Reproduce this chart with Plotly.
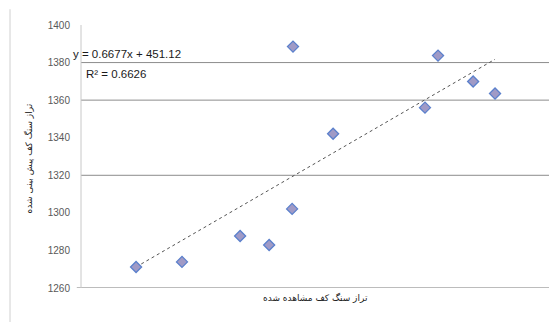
import plotly.graph_objects as go

# Observed vs. predicted bedrock elevation
observed = [1228.2, 1249.4, 1276.2, 1289.6, 1300.2, 1300.6, 1319.1, 1361.5, 1367.5, 1383.7, 1393.8]
predicted = [1271.2, 1273.9, 1287.7, 1282.9, 1302.1, 1388.5, 1342.1, 1356.0, 1383.7, 1369.9, 1363.5]

# Linear trend reported on the chart
slope = 0.6677
intercept = 451.12
r_squared = 0.6626

y_ticks = [1260, 1280, 1300, 1320, 1340, 1360, 1380, 1400]
grid_levels = [1320, 1360, 1380]

x_title = "تراز سنگ کف مشاهده شده"
y_title = "تراز سنگ کف پیش بینی شده"

x_min, x_max = min(observed), max(observed)
trend_x = [x_min, x_max]
trend_y = [slope * v + intercept for v in trend_x]

fig = go.Figure()
fig.add_trace(go.Scatter(
    x=trend_x, y=trend_y, mode="lines",
    line=dict(color="#555555", width=1, dash="dot"),
    hoverinfo="skip", showlegend=False,
))
fig.add_trace(go.Scatter(
    x=observed, y=predicted, mode="markers",
    marker=dict(symbol="diamond", size=8.5, color="#a09ac6",
                line=dict(color="#5b80cc", width=1.3)),
    showlegend=False,
))

shapes = []
for g in grid_levels:
    shapes.append(dict(type="line", xref="paper", yref="y", x0=0, x1=1, y0=g, y1=g,
                       line=dict(color="#8c8c8c", width=1), layer="below"))
# bottom axis line, reaching a little left of the vertical axis
shapes.append(dict(type="line", xref="paper", yref="y", x0=-0.009, x1=1, y0=1260, y1=1260,
                   line=dict(color="#a6a6a6", width=1.5), layer="below"))
# vertical axis line
shapes.append(dict(type="line", xref="paper", yref="y", x0=0, x1=0, y0=1260, y1=1400,
                   line=dict(color="#c8c8c8", width=1), layer="below"))
# outer frame edge on the left
shapes.append(dict(type="line", xref="paper", yref="paper", x0=-0.1517, x1=-0.1517,
                   y0=1.06, y1=-0.14, line=dict(color="#d0d0d0", width=1)))

annotations = [
    dict(text=f"y = {slope}x + {intercept}", xref="paper", yref="paper",
         x=-0.021, y=0.89, xanchor="left", yanchor="middle", showarrow=False,
         font=dict(family="Liberation Sans", size=11.5, color="#1a1a1a")),
    dict(text=f"R² = {r_squared}", xref="paper", yref="paper",
         x=0.006, y=0.815, xanchor="left", yanchor="middle", showarrow=False,
         font=dict(family="Liberation Sans", size=11.5, color="#1a1a1a")),
    dict(text=y_title, xref="paper", yref="paper", x=-0.113, y=0.493,
         xanchor="center", yanchor="middle", textangle=-90, showarrow=False,
         font=dict(family="DejaVu Sans", size=9, color="#222222")),
    dict(text=x_title, xref="paper", yref="paper", x=0.5, y=-0.036,
         xanchor="center", yanchor="middle", showarrow=False,
         font=dict(family="DejaVu Sans", size=9, color="#222222")),
]

fig.update_layout(
    width=549, height=322,
    margin=dict(l=81, r=0, t=25, b=34),
    paper_bgcolor="white", plot_bgcolor="white",
    shapes=shapes, annotations=annotations,
    xaxis=dict(range=[1202.8, 1418.7], showgrid=False, zeroline=False,
               showticklabels=False, showline=False, ticks=""),
    yaxis=dict(range=[1260, 1400], tickvals=y_ticks, showgrid=False, zeroline=False,
               showline=False, ticks="", ticklabelstandoff=10,
               tickfont=dict(family="Liberation Sans", size=10, color="#595959")),
)

fig.write_html("out.html")
